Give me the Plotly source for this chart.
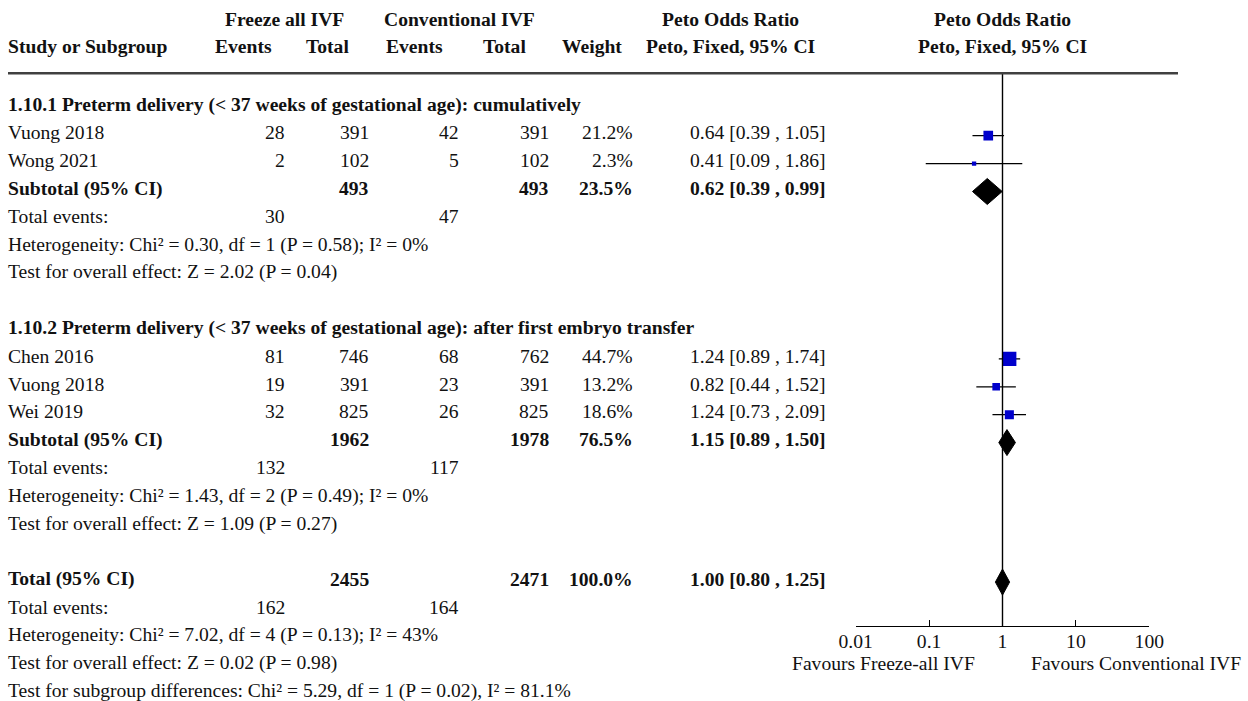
import plotly.graph_objects as go

W, H = 1248, 701
SERIF = "Liberation Serif"
FS = 19.6
INK = "#111111"
BLUE = "#0000cc"

# ---- data -------------------------------------------------------------
g1_title = "1.10.1 Preterm delivery (&lt; 37 weeks of gestational age): cumulatively"
g1_study = ["Vuong 2018", "Wong 2021"]
g1_freeze_events = [28, 2]
g1_freeze_total = [391, 102]
g1_conv_events = [42, 5]
g1_conv_total = [391, 102]
g1_weight = [21.2, 2.3]
g1_or = [0.64, 0.41]
g1_lo = [0.39, 0.09]
g1_hi = [1.05, 1.86]
g1_sub = dict(freeze_total=493, conv_total=493, weight=23.5, est=0.62, lo=0.39, hi=0.99,
              freeze_events=30, conv_events=47)
g1_het = "Heterogeneity: Chi² = 0.30, df = 1 (P = 0.58); I² = 0%"
g1_test = "Test for overall effect: Z = 2.02 (P = 0.04)"

g2_title = "1.10.2 Preterm delivery (&lt; 37 weeks of gestational age): after first embryo transfer"
g2_study = ["Chen 2016", "Vuong 2018", "Wei 2019"]
g2_freeze_events = [81, 19, 32]
g2_freeze_total = [746, 391, 825]
g2_conv_events = [68, 23, 26]
g2_conv_total = [762, 391, 825]
g2_weight = [44.7, 13.2, 18.6]
g2_or = [1.24, 0.82, 1.24]
g2_lo = [0.89, 0.44, 0.73]
g2_hi = [1.74, 1.52, 2.09]
g2_sub = dict(freeze_total=1962, conv_total=1978, weight=76.5, est=1.15, lo=0.89, hi=1.50,
              freeze_events=132, conv_events=117)
g2_het = "Heterogeneity: Chi² = 1.43, df = 2 (P = 0.49); I² = 0%"
g2_test = "Test for overall effect: Z = 1.09 (P = 0.27)"

total = dict(freeze_total=2455, conv_total=2471, weight=100.0, est=1.00, lo=0.80, hi=1.25,
             freeze_events=162, conv_events=164)
total_het = "Heterogeneity: Chi² = 7.02, df = 4 (P = 0.13); I² = 43%"
total_test = "Test for overall effect: Z = 0.02 (P = 0.98)"
subgroup_test = "Test for subgroup differences: Chi² = 5.29, df = 1 (P = 0.02), I² = 81.1%"

tick_vals = [0.01, 0.1, 1, 10, 100]
tick_text = ["0.01", "0.1", "1", "10", "100"]
favours_left = "Favours Freeze-all IVF"
favours_right = "Favours Conventional IVF"

# ---- layout geometry (pixels) ----------------------------------------
ROW0, ROWH = 105.0, 27.9          # centre of first body row, row pitch
AXIS_Y = 626.0                    # x-axis line
RULE_Y = 73.3                     # header rule
X_LEFT, X_RIGHT = 855.7, 1149.3   # 0.01 .. 100 on the log axis

COL_STUDY = 8
COL_FE = 284.5
COL_FT = 368.5
COL_CE = 458.5
COL_CT = 549
COL_W = 633
COL_OR = 826


def row_of(px):
    return (px - ROW0) / ROWH


annotations = []


def txt(s, xpx, r, anchor="left", bold=False):
    annotations.append(dict(
        text=f"<b>{s}</b>" if bold else s,
        x=xpx / W, xref="paper", y=r, yref="y",
        xanchor=anchor, yanchor="middle", showarrow=False,
        borderpad=0, borderwidth=0,
        font=dict(family=SERIF, size=FS, color=INK),
    ))


def ci_text(est, lo, hi):
    return f"{est:.2f} [{lo:.2f} , {hi:.2f}]"


# ---- header -----------------------------------------------------------
h1, h2 = row_of(19.3), row_of(46.7)
txt("Freeze all IVF", 284.7, h1, "center", True)
txt("Conventional IVF", 459.7, h1, "center", True)
txt("Peto Odds Ratio", 730.5, h1, "center", True)
txt("Peto Odds Ratio", 1002.5, h1, "center", True)
txt("Study or Subgroup", COL_STUDY, h2, "left", True)
txt("Events", 243, h2, "center", True)
txt("Total", 327, h2, "center", True)
txt("Events", 414, h2, "center", True)
txt("Total", 504.5, h2, "center", True)
txt("Weight", 592, h2, "center", True)
txt("Peto, Fixed, 95% CI", 730.5, h2, "center", True)
txt("Peto, Fixed, 95% CI", 1002.5, h2, "center", True)

# ---- body -------------------------------------------------------------
MARK_DY = 0.1
sq_x, sq_y, sq_size = [], [], []
ci_x, ci_y = [], []


def study_rows(start, study, fe, ft, ce, ct, w, est, lo, hi):
    for i in range(len(study)):
        r = start + i
        txt(study[i], COL_STUDY, r)
        txt(str(fe[i]), COL_FE, r, "right")
        txt(str(ft[i]), COL_FT, r, "right")
        txt(str(ce[i]), COL_CE, r, "right")
        txt(str(ct[i]), COL_CT, r, "right")
        txt(f"{w[i]:.1f}%", COL_W, r, "right")
        txt(ci_text(est[i], lo[i], hi[i]), COL_OR, r, "right")
        sq_x.append(est[i])
        sq_y.append(r + MARK_DY)
        sq_size.append(max(4.3, 2.1 * w[i] ** 0.5))
        ci_x.extend([lo[i], hi[i], None])
        ci_y.extend([r + MARK_DY, r + MARK_DY, None])


diamonds = []


def summary_row(r, label, s):
    txt(label, COL_STUDY, r, "left", True)
    txt(str(s["freeze_total"]), COL_FT, r, "right", True)
    txt(str(s["conv_total"]), COL_CT, r, "right", True)
    txt(f"{s['weight']:.1f}%", COL_W, r, "right", True)
    txt(ci_text(s["est"], s["lo"], s["hi"]), COL_OR, r, "right", True)
    diamonds.append((r + MARK_DY, s["est"], s["lo"], s["hi"]))
    txt("Total events:", COL_STUDY, r + 1)
    txt(str(s["freeze_events"]), COL_FE, r + 1, "right")
    txt(str(s["conv_events"]), COL_CE, r + 1, "right")


txt(g1_title, COL_STUDY, 0, "left", True)
study_rows(1, g1_study, g1_freeze_events, g1_freeze_total, g1_conv_events,
           g1_conv_total, g1_weight, g1_or, g1_lo, g1_hi)
summary_row(3, "Subtotal (95% CI)", g1_sub)
txt(g1_het, COL_STUDY, 5)
txt(g1_test, COL_STUDY, 6)

txt(g2_title, COL_STUDY, 8, "left", True)
study_rows(9, g2_study, g2_freeze_events, g2_freeze_total, g2_conv_events,
           g2_conv_total, g2_weight, g2_or, g2_lo, g2_hi)
summary_row(12, "Subtotal (95% CI)", g2_sub)
txt(g2_het, COL_STUDY, 14)
txt(g2_test, COL_STUDY, 15)

summary_row(17, "Total (95% CI)", total)
txt(total_het, COL_STUDY, 19)
txt(total_test, COL_STUDY, 20)
txt(subgroup_test, COL_STUDY, 21)

# favours labels under the axis
fav_r = row_of(663.3)
txt(favours_left, 975, fav_r, "right")
txt(favours_right, 1031, fav_r, "left")

fig = go.Figure()

# confidence-interval whiskers
fig.add_trace(go.Scatter(x=ci_x, y=ci_y, mode="lines",
                         line=dict(color="black", width=1.3),
                         hoverinfo="skip", showlegend=False))
# study weights as squares
fig.add_trace(go.Scatter(x=sq_x, y=sq_y, mode="markers",
                         marker=dict(symbol="square", size=sq_size, color=BLUE,
                                     opacity=1, line=dict(width=0)),
                         showlegend=False))
# pooled estimates as diamonds
HALF_H = 13.0 / ROWH
for r, est, lo, hi in diamonds:
    fig.add_trace(go.Scatter(
        x=[lo, est, hi, est, lo], y=[r, r - HALF_H, r, r + HALF_H, r],
        mode="lines", fill="toself", fillcolor="black",
        line=dict(color="black", width=1), hoverinfo="skip", showlegend=False))

# line of no effect and header rule
fig.add_shape(type="line", xref="x", yref="y", x0=1, x1=1,
              y0=row_of(RULE_Y), y1=row_of(AXIS_Y),
              line=dict(color="black", width=1.4))
fig.add_shape(type="line", xref="paper", yref="y", x0=8 / W, x1=1178 / W,
              y0=row_of(RULE_Y), y1=row_of(RULE_Y),
              line=dict(color="#404040", width=2.6))

fig.update_layout(
    width=W, height=H, autosize=False,
    margin=dict(l=0, r=0, t=0, b=0, pad=0, autoexpand=False),
    paper_bgcolor="white", plot_bgcolor="white",
    annotations=annotations, showlegend=False,
    xaxis=dict(type="log", range=[-2, 2], domain=[X_LEFT / W, X_RIGHT / W],
               anchor="free", position=(H - AXIS_Y) / H, automargin=False,
               showline=True, linecolor="black", linewidth=1.4,
               ticks="inside", ticklen=6, tickwidth=1.4, tickcolor="black",
               ticklabelstandoff=-3,
               tickvals=tick_vals, ticktext=tick_text,
               tickfont=dict(family=SERIF, size=FS, color=INK),
               showgrid=False, zeroline=False, fixedrange=True),
    yaxis=dict(range=[row_of(H), row_of(0)], domain=[0, 1], visible=False,
               automargin=False,
               showgrid=False, zeroline=False, fixedrange=True),
)

fig.write_html("out.html", config={"responsive": False})
